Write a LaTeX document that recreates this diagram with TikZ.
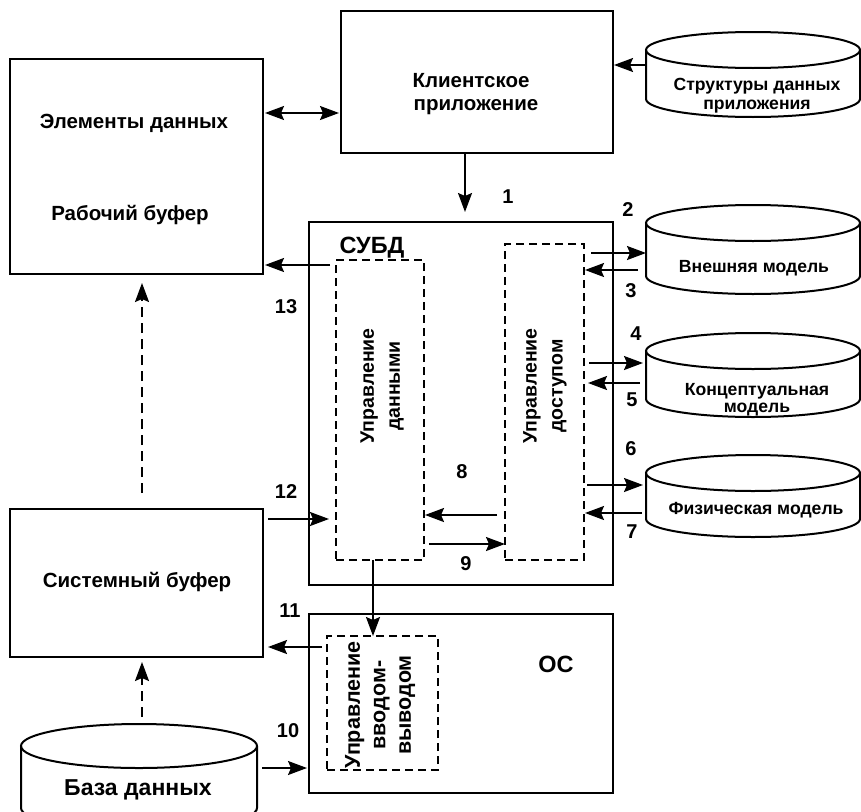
\documentclass[tikz,border=0pt]{standalone}
\usepackage{fontspec}
\setmainfont{Liberation Sans}
\usetikzlibrary{arrows.meta}

% outline of a drum (database) around a rectangular node: name, half width, ellipse radius
\newcommand\drumoutline[3]{%
  \draw[outline] ([yshift=-#3pt]#1.north) ellipse [x radius=#2pt, y radius=#3pt];
  \draw[outline] ([yshift=-#3pt]#1.north west) -- ([yshift=#3pt]#1.south west)
    arc [start angle=180, end angle=360, x radius=#2pt, y radius=#3pt]
    -- ([yshift=-#3pt]#1.north east);
}

\begin{document}
\begin{tikzpicture}[x=1pt, y=1pt,
  outline/.style={line width=2pt, line join=miter},
  box/.style={draw, line width=2pt, inner sep=0pt, outer sep=0pt},
  dbox/.style={draw, line width=1.8pt, dash pattern=on 8pt off 5pt, inner sep=0pt, outer sep=0pt},
  drum/.style={inner sep=0pt, outer sep=0pt},
  txt/.style={inner sep=0pt, anchor=base, font=\bfseries\fontsize{20.5}{24}\selectfont},
  small/.style={inner sep=0pt, anchor=base, font=\bfseries\fontsize{17.6}{20}\selectfont},
  big/.style={inner sep=0pt, anchor=base, font=\bfseries\fontsize{23.5}{28}\selectfont},
  num/.style={inner sep=0pt, anchor=base, font=\bfseries\fontsize{20}{24}\selectfont},
  vert/.style={inner sep=0pt, rotate=90, align=center, font=\bfseries\fontsize{19.5}{26}\selectfont},
  arr/.style={line width=1.8pt, -{Stealth[length=19pt, width=14pt, inset=3pt]}},
  dbl/.style={line width=1.8pt, {Stealth[length=19pt, width=14pt, inset=3pt]}-{Stealth[length=19pt, width=14pt, inset=3pt]}},
  darr/.style={arr, dash pattern=on 10pt off 6pt},
]
\useasboundingbox (0,0) rectangle (861,-811);

% ---- boxes ----
\node[box, minimum width=253pt, minimum height=215pt] (wb) at (136.5,-166.5) {};
\node[box, minimum width=272pt, minimum height=142pt] (client) at (477,-82) {};
\node[box, minimum width=304pt, minimum height=363pt] (dbms) at (461,-403.5) {};
\node[box, minimum width=304pt, minimum height=179pt] (os) at (461,-703.5) {};
\node[box, minimum width=253pt, minimum height=148pt] (sb) at (136.5,-583) {};

\node[dbox, minimum width=88pt, minimum height=300pt] (dm) at (380,-410) {};
\node[dbox, minimum width=79pt, minimum height=316pt] (acc) at (544.5,-402) {};
\node[dbox, minimum width=111pt, minimum height=134pt] (io) at (382.5,-703) {};

% ---- drums ----
\node[drum, minimum width=214pt, minimum height=85pt] (appds) at (753,-74.5) {};
\drumoutline{appds}{107}{18}
\node[drum, minimum width=214pt, minimum height=89pt] (ext) at (753,-249.5) {};
\drumoutline{ext}{107}{18}
\node[drum, minimum width=214pt, minimum height=84pt] (conc) at (753,-375) {};
\drumoutline{conc}{107}{18}
\node[drum, minimum width=214pt, minimum height=82pt] (phys) at (753,-496) {};
\drumoutline{phys}{107}{18}
\node[drum, minimum width=236pt, minimum height=106pt] (db) at (139,-777) {};
\drumoutline{db}{118}{22}

% ---- texts ----
\node[txt] (wbt1) at (134,-128) {Элементы данных};
\node[txt] (wbt2) at (130,-220) {Рабочий буфер};
\node[txt] (clt1) at (471,-87) {Клиентское};
\node[txt] (clt2) at (476,-110) {приложение};
\node[small] (apt1) at (757,-90) {Структуры данных};
\node[small] (apt2) at (757,-109) {приложения};
\node[small] (ext1) at (754,-272) {Внешняя модель};
\node[small] (cnt1) at (757,-395) {Концептуальная};
\node[small] (cnt2) at (757,-412) {модель};
\node[small] (phy1) at (756,-514) {Физическая модель};
\node[txt] (sbt) at (137,-587) {Системный буфер};
\node[txt, font=\bfseries\fontsize{23}{27}\selectfont] (dbt) at (138,-795) {База данных};
\node[big] (dbmst) at (372,-253) {СУБД};
\node[big] (ost) at (556,-672) {ОС};

\node[vert] (dmt) at (382,-386) {Управление\\данными};
\node[vert] (acct) at (545,-386) {Управление\\доступом};
\node[vert, font=\bfseries\fontsize{21.5}{25.5}\selectfont] (iot) at (380,-705) {Управление\\вводом-\\выводом};

% ---- numbers ----
\node[num] (n1) at (508,-203) {1};
\node[num] (n2) at (628,-216) {2};
\node[num] (n3) at (631,-297) {3};
\node[num] (n4) at (636,-340) {4};
\node[num] (n5) at (632,-406) {5};
\node[num] (n6) at (631,-455) {6};
\node[num] (n7) at (632,-538) {7};
\node[num] (n8) at (462,-478) {8};
\node[num] (n9) at (466,-570) {9};
\node[num] (n10) at (288,-737) {10};
\node[num] (n11) at (290,-617) {11};
\node[num] (n12) at (286,-498) {12};
\node[num] (n13) at (286,-313) {13};

% ---- connectors ----
\draw[dbl, shorten <=2pt, shorten >=2pt] (wb.east |- 0,-113) -- (client.west |- 0,-113);
\draw[arr, shorten >=1pt] (appds.west |- 0,-65) -- (client.east |- 0,-65);
\draw[arr, shorten >=10pt] (client.south -| 465,0) -- (dbms.north -| 465,0);

\draw[arr, shorten <=7pt] (acc.east |- 0,-253) -- (ext.west |- 0,-253);
\draw[arr, shorten <=8pt, shorten >=1pt] (ext.west |- 0,-270) -- (acc.east |- 0,-270);
\draw[arr, shorten <=5pt, shorten >=3pt] (acc.east |- 0,-363) -- (conc.west |- 0,-363);
\draw[arr, shorten <=6pt, shorten >=4pt] (conc.west |- 0,-383) -- (acc.east |- 0,-383);
\draw[arr, shorten <=3pt, shorten >=3pt] (acc.east |- 0,-485) -- (phys.west |- 0,-485);
\draw[arr, shorten <=4pt, shorten >=1pt] (phys.west |- 0,-513) -- (acc.east |- 0,-513);

\draw[arr, shorten <=8pt, shorten >=1pt] (acc.west |- 0,-515) -- (dm.east |- 0,-515);
\draw[arr, shorten <=5pt] (dm.east |- 0,-544) -- (acc.west |- 0,-544);

\draw[arr, shorten <=6pt, shorten >=2pt] (dm.west |- 0,-265) -- (wb.east |- 0,-265);
\draw[arr, shorten <=5pt, shorten >=7pt] (sb.east |- 0,-519) -- (dm.west |- 0,-519);
\draw[arr, shorten <=5pt, shorten >=5pt] (io.west |- 0,-647) -- (sb.east |- 0,-647);
\draw[arr, shorten <=5pt, shorten >=2pt] (db.east |- 0,-768) -- (os.west |- 0,-768);
\draw[arr] (dm.south -| 373,0) -- (io.north -| 373,0);

\draw[darr, shorten <=16pt, shorten >=9pt] (sb.north -| 142,0) -- (wb.south -| 142,0);
\draw[darr, shorten <=7pt, shorten >=5pt] (db.north -| 142,0) -- (sb.south -| 142,0);
\end{tikzpicture}
\end{document}
